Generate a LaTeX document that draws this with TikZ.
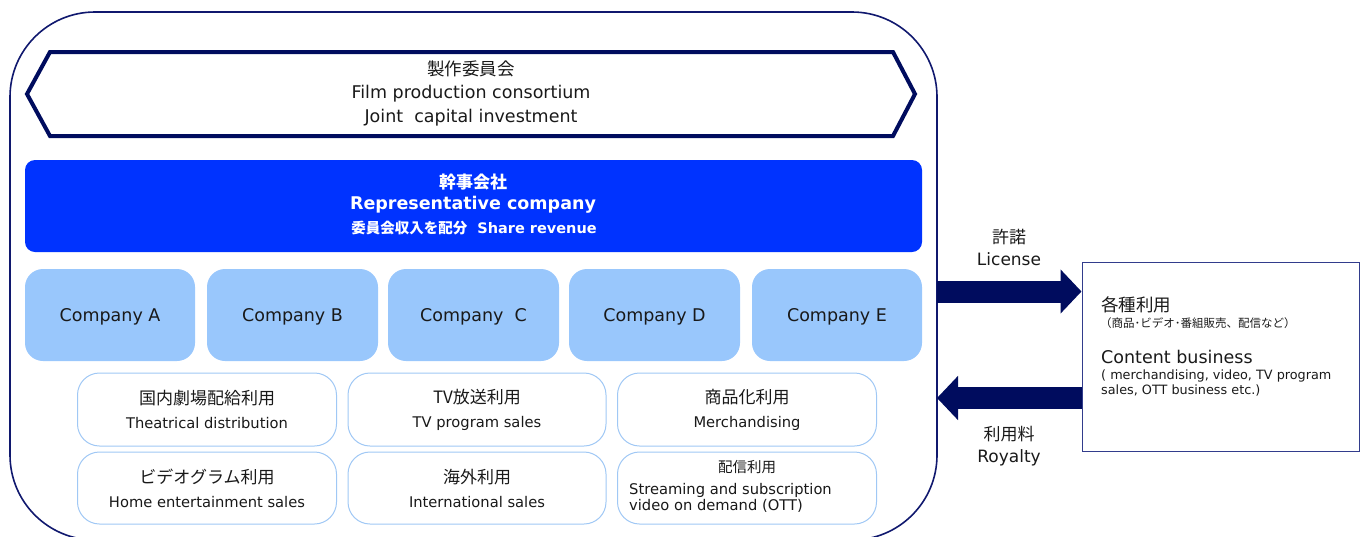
\documentclass[tikz,border=0pt]{standalone}
\usepackage{fontspec}
\setmainfont{DejaVu Sans}
\newfontfamily\cjk{Noto Sans CJK JP}
\usetikzlibrary{arrows.meta}
\definecolor{navy}{RGB}{0,12,94}
\definecolor{framec}{RGB}{16,24,110}
\definecolor{repblue}{RGB}{0,51,255}
\definecolor{compblue}{RGB}{153,199,252}
\definecolor{useline}{RGB}{160,200,245}
\definecolor{boxline}{RGB}{50,60,140}
\definecolor{txt}{RGB}{25,25,25}
\newcommand{\jpl}[1]{{\fontsize{17}{24}\cjk #1}}
\begin{document}
\begin{tikzpicture}[x=1pt,y=-1pt,
  every node/.style={text=txt},
  company/.style={fill=compblue, rounded corners=18pt, minimum width=171pt, minimum height=92pt, inner sep=0pt, text height=12.6pt, text depth=0pt, font=\fontsize{17.5}{21}\selectfont},
  usebox/.style={draw=useline, line width=1pt, fill=white, rounded corners=22pt, minimum width=259pt, minimum height=72pt, inner sep=0pt, align=center, font=\fontsize{14.7}{24}\selectfont},
  flow/.style={draw=navy, line width=22pt, -{Triangle[length=21pt,width=43pt]}},
]
\useasboundingbox (0,0) rectangle (1370,536);
\clip (0,0) rectangle (1370,536);
% outer frame
\node[draw=framec, line width=1.6pt, rounded corners=85pt, minimum width=927pt, minimum height=528pt, inner sep=0pt] (frame) at (473.5,276) {};
% consortium hexagon
\draw[navy, line width=4pt, line join=miter] (27,94) -- (50,52) -- (893,52) -- (915,94) -- (893,136) -- (50,136) -- cycle;
\node[align=center, font=\fontsize{17.5}{23.5}\selectfont] (cons) at (471,93) {{\cjk 製作委員会}\\Film production consortium\\Joint\ \ capital investment};
% representative company
\node[fill=repblue, rounded corners=10pt, minimum width=897pt, minimum height=92pt, inner sep=0pt] (rep) at (473.5,206) {};
\node[text=white, font=\fontsize{17}{20}\cjk\bfseries] (rep1) at (473,182) {幹事会社};
\node[text=white, font=\fontsize{17.5}{20}\bfseries] (rep2) at (473,205) {Representative company};
\node[text=white, font=\fontsize{14.5}{18}\bfseries] (rep3) at (474,228) {{\cjk 委員会収入を配分}\ \ Share revenue};
% companies
\node[company, minimum width=170pt] (ca) at (110,315) {Company A};
\node[company] (cb) at (292.5,315) {Company B};
\node[company] (cc) at (473.5,315) {Company\ \ C};
\node[company] (cd) at (654.5,315) {Company D};
\node[company, minimum width=170pt] (ce) at (837,315) {Company E};
% usage boxes
\node[usebox, minimum height=73pt] (u1) at (207,409.5) {\jpl{国内劇場配給利用}\\Theatrical distribution};
\node[usebox, minimum width=258pt, minimum height=73pt] (u2) at (477,409.5) {\jpl{TV放送利用}\\TV program sales};
\node[usebox, minimum height=73pt] (u3) at (747,409.5) {\jpl{商品化利用}\\Merchandising};
\node[usebox] (u4) at (207,488) {\jpl{ビデオグラム利用}\\Home entertainment sales};
\node[usebox, minimum width=258pt] (u5) at (477,488) {\jpl{海外利用}\\International sales};
\node[usebox] (u6) at (747,488) {};
\node[font=\fontsize{14.5}{18}\cjk] (u6a) at (747,467) {配信利用};
\node[anchor=west, align=left, inner sep=0pt, font=\fontsize{14.7}{16}\selectfont] (u6b) at (629,498) {Streaming and subscription\\video on demand (OTT)};
% right box
\node[draw=boxline, line width=1pt, minimum width=277pt, minimum height=189pt, inner sep=0pt] (rbox) at (1220.5,356.5) {};
\node[anchor=west, inner sep=0pt, font=\fontsize{17.5}{20}\cjk] (r1) at (1101,305) {各種利用};
\node[anchor=west, inner sep=0pt, font=\fontsize{11.5}{13}\cjk] (r2) at (1100,323) {（商品･ビデオ･番組販売、配信など）};
\node[anchor=west, inner sep=0pt, font=\fontsize{17.5}{20}\selectfont] (r3) at (1101,357) {Content business};
\node[anchor=north west, align=left, inner sep=0pt, font=\fontsize{12.8}{14.5}\selectfont] (r4) at (1101,370) {( merchandising, video, TV program\\sales, OTT business etc.)};
% arrows
\coordinate (licS) at (937,291.5);
\coordinate (royE) at (937,398);
\draw[flow] (licS) -- (licS -| rbox.west);
\draw[flow] (royE -| rbox.west) -- (royE);
\node[align=center, font=\fontsize{17}{22}\selectfont] (lic) at (1009,247) {{\cjk 許諾}\\License};
\node[align=center, font=\fontsize{17}{22}\selectfont] (roy) at (1009,446) {{\cjk 利用料}\\Royalty};
\end{tikzpicture}
\end{document}
